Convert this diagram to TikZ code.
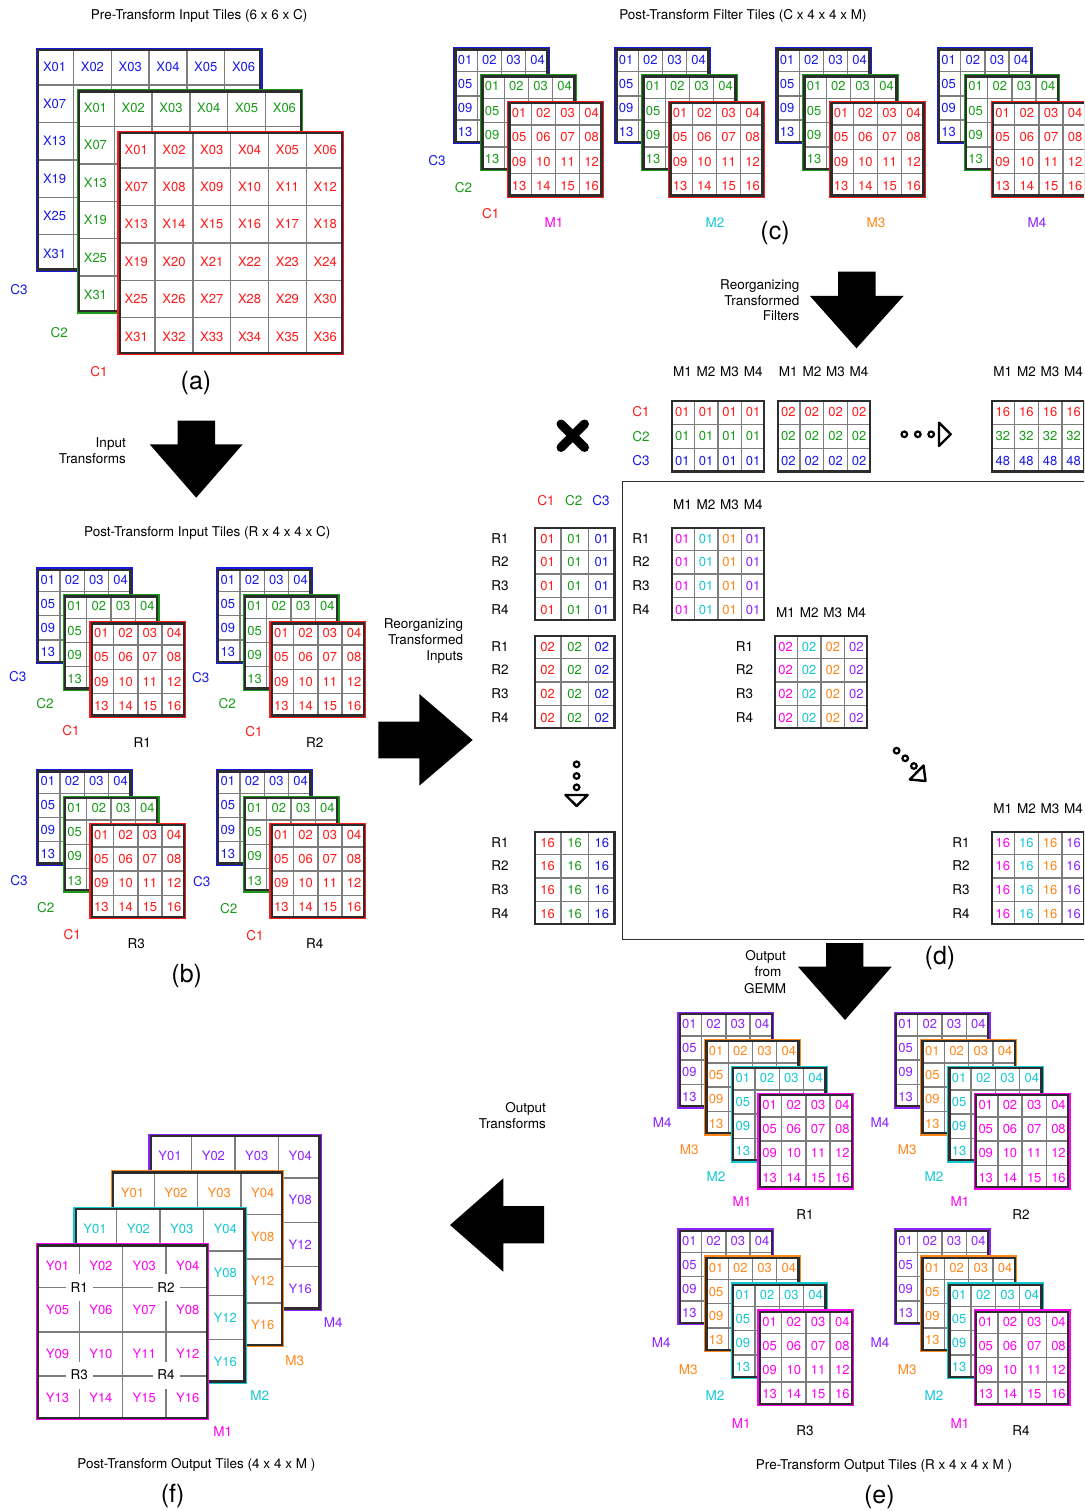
\documentclass[tikz,border=0pt]{standalone}
\usepackage{fontspec}
\setmainfont{TeX Gyre Heros}
\definecolor{cred}{RGB}{255,25,25}
\definecolor{cgreen}{RGB}{25,155,25}
\definecolor{cblue}{RGB}{25,25,230}
\definecolor{cmag}{RGB}{255,0,240}
\definecolor{ccyan}{RGB}{20,200,210}
\definecolor{corange}{RGB}{255,135,25}
\definecolor{cpurple}{RGB}{140,35,255}
\definecolor{gridgray}{RGB}{125,125,125}
\definecolor{framec}{RGB}{45,45,45}
\tikzset{
  gridl/.style={draw=gridgray, line width=1.4pt},
  framel/.style={draw=framec, line width=2.4pt},
  cl/.style={inner sep=0pt, font=\fontsize{13}{15}\selectfont, text height=9.3pt, text depth=0pt},
  lb/.style={inner sep=0pt, font=\fontsize{13.5}{16}\selectfont, text height=9.6pt, text depth=0pt},
  lbr/.style={lb, anchor=east},
  bigl/.style={inner sep=0pt, font=\fontsize{25}{28}\selectfont, text height=13pt, text depth=0pt},
  rlab/.style={lb, fill=white, minimum width=27pt, minimum height=27pt},
  blockarrow/.style={fill=black},
  dots/.style={draw=black, line width=2.2pt},
  dtri/.style={draw=black, line width=2.4pt, line join=round},
  bigframe/.style={draw=framec, line width=1.5pt},
}
\def\gcw{24}\def\gch{24}
% layer with coloured outline: x y cols rows colour
\newcommand\tilebox[5]{%
  \fill[white] ({#1},{#2}) rectangle ({#1+#3*\gcw},{#2+#4*\gch});
  \pgfmathtruncatemacro\tbnc{#3-1}%
  \pgfmathtruncatemacro\tbnr{#4-1}%
  \foreach \i in {1,...,\tbnc}{\draw[gridl] ({#1+\i*\gcw},{#2}) -- ({#1+\i*\gcw},{#2+#4*\gch});}
  \foreach \j in {1,...,\tbnr}{\draw[gridl] ({#1},{#2+\j*\gch}) -- ({#1+#3*\gcw},{#2+\j*\gch});}
  \draw[draw=#5, line width=1.2pt] ({#1+0.6},{#2+0.6}) rectangle ({#1+#3*\gcw-0.6},{#2+#4*\gch-0.6});
  \draw[framel] ({#1+2.4},{#2+2.4}) rectangle ({#1+#3*\gcw-2.4},{#2+#4*\gch-2.4});
}
% plain grid: x y cols rows
\newcommand\plaingrid[4]{%
  \fill[white] ({#1},{#2}) rectangle ({#1+#3*\gcw},{#2+#4*\gch});
  \pgfmathtruncatemacro\tbnc{#3-1}%
  \pgfmathtruncatemacro\tbnr{#4-1}%
  \foreach \i in {1,...,\tbnc}{\draw[gridl] ({#1+\i*\gcw},{#2}) -- ({#1+\i*\gcw},{#2+#4*\gch});}
  \foreach \j in {1,...,\tbnr}{\draw[gridl] ({#1},{#2+\j*\gch}) -- ({#1+#3*\gcw},{#2+\j*\gch});}
  \draw[framel] ({#1+1.2},{#2+1.2}) rectangle ({#1+#3*\gcw-1.2},{#2+#4*\gch-1.2});
}
% all labels: name x y colour prefix n
\newcommand\alllabels[6]{%
  \pgfmathtruncatemacro\alnm{#6-1}%
  \foreach \r in {0,...,\alnm}{\foreach \c in {0,...,\alnm}{%
    \pgfmathtruncatemacro\tn{\r*#6+\c+1}%
    \node[cl,text=#4] (#1-\r-\c) at ({#2+(\c+0.5)*\gcw},{#3+(\r+0.5)*\gch}) {#5\ifnum\tn<10 0\fi\tn};}}%
}
% first row and first column
\newcommand\leftlabels[6]{%
  \pgfmathtruncatemacro\alnm{#6-1}%
  \foreach \c in {0,...,\alnm}{\pgfmathtruncatemacro\tn{\c+1}%
    \node[cl,text=#4] (#1-0-\c) at ({#2+(\c+0.5)*\gcw},{#3+0.5*\gch}) {#5\ifnum\tn<10 0\fi\tn};}%
  \foreach \r in {1,...,\alnm}{\pgfmathtruncatemacro\tn{\r*#6+1}%
    \node[cl,text=#4] (#1-\r-0) at ({#2+0.5*\gcw},{#3+(\r+0.5)*\gch}) {#5\ifnum\tn<10 0\fi\tn};}%
}
% first row and last column
\newcommand\rightlabels[6]{%
  \pgfmathtruncatemacro\alnm{#6-1}%
  \foreach \c in {0,...,\alnm}{\pgfmathtruncatemacro\tn{\c+1}%
    \node[cl,text=#4] (#1-0-\c) at ({#2+(\c+0.5)*\gcw},{#3+0.5*\gch}) {#5\ifnum\tn<10 0\fi\tn};}%
  \foreach \r in {1,...,\alnm}{\pgfmathtruncatemacro\tn{\r*#6+#6}%
    \node[cl,text=#4] (#1-\r-e) at ({#2+(\alnm+0.5)*\gcw},{#3+(\r+0.5)*\gch}) {#5\ifnum\tn<10 0\fi\tn};}%
}
\newcommand\groupB[3]{%
  \tilebox{#2}{#3}{4}{4}{cblue}\leftlabels{#1b}{#2}{#3}{cblue}{}{4}%
  \tilebox{#2+26.8}{#3+26.8}{4}{4}{cgreen}\leftlabels{#1g}{#2+26.8}{#3+26.8}{cgreen}{}{4}%
  \tilebox{#2+53.6}{#3+53.6}{4}{4}{cred}\alllabels{#1r}{#2+53.6}{#3+53.6}{cred}{}{4}%
}
\newcommand\groupC[3]{%
  \tilebox{#2}{#3}{4}{4}{cblue}\leftlabels{#1b}{#2}{#3}{cblue}{}{4}%
  \tilebox{#2+27}{#3+26.7}{4}{4}{cgreen}\leftlabels{#1g}{#2+27}{#3+26.7}{cgreen}{}{4}%
  \tilebox{#2+54}{#3+53.4}{4}{4}{cred}\alllabels{#1r}{#2+54}{#3+53.4}{cred}{}{4}%
}
\newcommand\groupE[3]{%
  \tilebox{#2}{#3}{4}{4}{cpurple}\leftlabels{#1p}{#2}{#3}{cpurple}{}{4}%
  \tilebox{#2+26.7}{#3+27}{4}{4}{corange}\leftlabels{#1o}{#2+26.7}{#3+27}{corange}{}{4}%
  \tilebox{#2+53.4}{#3+54}{4}{4}{ccyan}\leftlabels{#1c}{#2+53.4}{#3+54}{ccyan}{}{4}%
  \tilebox{#2+80.1}{#3+81}{4}{4}{cmag}\alllabels{#1m}{#2+80.1}{#3+81}{cmag}{}{4}%
}
\begin{document}
\begin{tikzpicture}[x=1pt,y=-1pt]
\useasboundingbox (0,0) rectangle (1084,1511);
\fill[white] (0,0) rectangle (1084,1511);
\clip (0,0) rectangle (1084,1511);

% ================= (a) =================
\node[lb] (ta) at (199.2,14.7) {Pre-Transform Input Tiles (6 x 6 x C)};
\def\gcw{37.8}\def\gch{37.4}
\tilebox{35.7}{47.7}{6}{6}{cblue}\leftlabels{aB}{35.7}{47.7}{cblue}{X}{6}
\tilebox{76.5}{89.2}{6}{6}{cgreen}\leftlabels{aG}{76.5}{89.2}{cgreen}{X}{6}
\tilebox{117.3}{130.7}{6}{6}{cred}\alllabels{aR}{117.3}{130.7}{cred}{X}{6}
\node[lb,text=cblue] (aC3) at (19,289.3) {C3};
\node[lb,text=cgreen] (aC2) at (59.3,332.3) {C2};
\node[lb,text=cred] (aC1) at (99,371.7) {C1};
\node[bigl] (la) at (196,383.3) {(a)};

% arrow (a)->(b)
\fill[blockarrow] (177.7,420.7) -- (215,420.7) -- (215,444.3) -- (242.7,444.3) -- (196.2,497.7) -- (149.7,444.3) -- (177.7,444.3) -- cycle;
\node[lbr] (itx1) at (126,442.7) {Input};
\node[lbr] (itx2) at (126,458.3) {Transforms};

% ================= (b) =================
\node[lb] (tb) at (207.2,531.7) {Post-Transform Input Tiles (R x 4 x 4 x C)};
\def\gcw{24.25}\def\gch{24.2}
\groupB{bA}{35.7}{567.3}
\groupB{bB}{215.7}{567.3}
\groupB{bC}{35.7}{769}
\groupB{bD}{215.7}{769}
\node[lb,text=cblue] (bAC3) at (17.7,676.3) {C3};
\node[lb,text=cgreen] (bAC2) at (45,703.3) {C2};
\node[lb,text=cred] (bAC1) at (71,730.7) {C1};
\node[lb] (bAR) at (142.3,742.3) {R1};
\node[lb,text=cblue] (bBC3) at (200.7,677.7) {C3};
\node[lb,text=cgreen] (bBC2) at (227.3,703.3) {C2};
\node[lb,text=cred] (bBC1) at (254,731.3) {C1};
\node[lb] (bBR) at (314.7,742.3) {R2};
\node[lb,text=cblue] (bCC3) at (19,880.3) {C3};
\node[lb,text=cgreen] (bCC2) at (45.7,907.3) {C2};
\node[lb,text=cred] (bCC1) at (72.3,934.3) {C1};
\node[lb] (bCR) at (136.3,943.3) {R3};
\node[lb,text=cblue] (bDC3) at (201.7,881.3) {C3};
\node[lb,text=cgreen] (bDC2) at (228.7,908.3) {C2};
\node[lb,text=cred] (bDC1) at (255,935.3) {C1};
\node[lb] (bDR) at (314.7,943.3) {R4};
\node[bigl] (lb) at (186.7,976) {(b)};

% arrow (b)->(d)
\fill[blockarrow] (378.3,721.7) -- (419.3,721.7) -- (419.3,694) -- (472.7,740) -- (419.3,785.7) -- (419.3,758.3) -- (378.3,758.3) -- cycle;
\node[lbr] (rti1) at (463.3,624) {Reorganizing};
\node[lbr] (rti2) at (463.3,639.3) {Transformed};
\node[lbr] (rti3) at (463.3,655.3) {Inputs};

% ================= (c) =================
\node[lb] (tc) at (743,14.7) {Post-Transform Filter Tiles (C x 4 x 4 x M)};
\def\gcw{24.2}\def\gch{24.3}
\groupC{cA}{453}{47.3}
\groupC{cB}{614}{47.3}
\groupC{cC}{775}{47.3}
\groupC{cD}{936.5}{47.3}
\node[lb,text=cblue] (cC3) at (437,160.7) {C3};
\node[lb,text=cgreen] (cC2) at (463.6,187.3) {C2};
\node[lb,text=cred] (cC1) at (490.8,213.3) {C1};
\node[lb,text=cmag] (cM1) at (553.9,222.7) {M1};
\node[lb,text=ccyan] (cM2) at (715,222.7) {M2};
\node[lb,text=corange] (cM3) at (876,222.7) {M3};
\node[lb,text=cpurple] (cM4) at (1037,222.7) {M4};
\node[bigl] (lc) at (775,233) {(c)};

% arrow (c)->(d)
\fill[blockarrow] (838,271.7) -- (875.5,271.7) -- (875.5,296) -- (903.5,296) -- (856.5,348.3) -- (810,296) -- (838,296) -- cycle;
\node[lbr] (rtf1) at (799.6,285) {Reorganizing};
\node[lbr] (rtf2) at (799.6,300.7) {Transformed};
\node[lbr] (rtf3) at (799.6,316) {Filters};

% ================= (d) =================
% filter matrices
\def\gcw{23.6}\def\gch{24.2}
\plaingrid{670.6}{400}{4}{3}
\plaingrid{776.5}{400}{4}{3}
\plaingrid{991}{400}{4}{3}
\foreach \r/\cc in {0/cred,1/cgreen,2/cblue}{\foreach \c in {0,...,3}{
  \node[cl,text=\cc] (fA-\r-\c) at ({670.6+(\c+0.5)*\gcw},{400+(\r+0.5)*\gch}) {01};
  \node[cl,text=\cc] (fB-\r-\c) at ({776.5+(\c+0.5)*\gcw},{400+(\r+0.5)*\gch}) {02};}}
\foreach \r/\cc/\tv in {0/cred/16,1/cgreen/32,2/cblue/48}{\foreach \c in {0,...,3}{
  \node[cl,text=\cc] (fC-\r-\c) at ({991+(\c+0.5)*\gcw},{400+(\r+0.5)*\gch}) {\tv};}}
\foreach \c/\m in {0/M1,1/M2,2/M3,3/M4}{
  \node[lb] (fAh\c) at ({670.6+(\c+0.5)*23.6},372) {\m};
  \node[lb] (fBh\c) at ({776.5+(\c+0.5)*23.6},372) {\m};
  \node[lb] (fCh\c) at ({991+(\c+0.5)*23.6},372) {\m};}
\node[lb,text=cred] (fC1) at (641,412.1) {C1};
\node[lb,text=cgreen] (fC2) at (641,436.3) {C2};
\node[lb,text=cblue] (fC3) at (641,460.5) {C3};
% times sign
\draw[line width=9pt, line cap=round] (561,424) -- (584.5,447.5) (561,447.5) -- (584.5,424);
% dots to the right
\draw[dots] (904.3,434.3) circle[radius=2.8] (917.8,434.3) circle[radius=2.8] (931.2,434.3) circle[radius=2.8];
\draw[dtri] (939,422.7) -- (950.7,434.3) -- (939,446) -- cycle;

% big box
\draw[bigframe] (622.5,481.5) rectangle (1100,939.3);

% input matrices
\def\gcw{27.2}\def\gch{23.65}
\plaingrid{533.9}{526.7}{3}{4}
\plaingrid{533.9}{634.7}{3}{4}
\plaingrid{533.9}{830.7}{3}{4}
\foreach \c/\cc in {0/cred,1/cgreen,2/cblue}{\foreach \r in {0,...,3}{
  \node[cl,text=\cc] (iA-\r-\c) at ({533.9+(\c+0.5)*\gcw},{526.7+(\r+0.5)*\gch}) {01};
  \node[cl,text=\cc] (iB-\r-\c) at ({533.9+(\c+0.5)*\gcw},{634.7+(\r+0.5)*\gch}) {02};
  \node[cl,text=\cc] (iC-\r-\c) at ({533.9+(\c+0.5)*\gcw},{830.7+(\r+0.5)*\gch}) {16};}}
\node[lb,text=cred] (ih1) at (546,500.7) {C1};
\node[lb,text=cgreen] (ih2) at (573.8,500.7) {C2};
\node[lb,text=cblue] (ih3) at (601,500.7) {C3};
\foreach \r in {0,...,3}{\pgfmathtruncatemacro\rn{\r+1}
  \node[lb] (iAR\r) at (500,{526.7+(\r+0.5)*23.65}) {R\rn};
  \node[lb] (iBR\r) at (500,{634.7+(\r+0.5)*23.65}) {R\rn};
  \node[lb] (iCR\r) at (500,{830.7+(\r+0.5)*23.65}) {R\rn};}
% vertical dots
\draw[dots] (576.6,764.3) circle[radius=2.8] (576.6,776) circle[radius=2.8] (576.6,787.3) circle[radius=2.8];
\draw[dtri] (565.5,795) -- (587.7,795) -- (576.6,806) -- cycle;

% output matrices
\def\gcw{23.6}\def\gch{23.65}
\plaingrid{670.6}{526.7}{4}{4}
\plaingrid{773.8}{634.7}{4}{4}
\plaingrid{991}{830.7}{4}{4}
\foreach \c/\cc in {0/cmag,1/ccyan,2/corange,3/cpurple}{\foreach \r in {0,...,3}{
  \node[cl,text=\cc] (oA-\r-\c) at ({670.6+(\c+0.5)*\gcw},{526.7+(\r+0.5)*\gch}) {01};
  \node[cl,text=\cc] (oB-\r-\c) at ({773.8+(\c+0.5)*\gcw},{634.7+(\r+0.5)*\gch}) {02};
  \node[cl,text=\cc] (oC-\r-\c) at ({991+(\c+0.5)*\gcw},{830.7+(\r+0.5)*\gch}) {16};}}
\foreach \c/\m in {0/M1,1/M2,2/M3,3/M4}{
  \node[lb] (oAh\c) at ({670.6+(\c+0.5)*23.6},504.3) {\m};
  \node[lb] (oBh\c) at ({773.8+(\c+0.5)*23.6},612.3) {\m};
  \node[lb] (oCh\c) at ({991+(\c+0.5)*23.6},808.3) {\m};}
\foreach \r in {0,...,3}{\pgfmathtruncatemacro\rn{\r+1}
  \node[lb] (oAR\r) at (641,{526.7+(\r+0.5)*23.65}) {R\rn};
  \node[lb] (oBR\r) at (744.5,{634.7+(\r+0.5)*23.65}) {R\rn};
  \node[lb] (oCR\r) at (961,{830.7+(\r+0.5)*23.65}) {R\rn};}
% diagonal dots
\draw[dots] (896.6,750.7) circle[radius=2.8] (905.2,758.3) circle[radius=2.8] (913.9,766) circle[radius=2.8];
\draw[dtri] (923.5,765.5) -- (909.8,779.5) -- (925.5,781) -- cycle;
\node[bigl] (ld) at (940,958) {(d)};

% arrow (d)->(e)
\fill[blockarrow] (826,943) -- (863.3,943) -- (863.3,966.7) -- (891.7,966.7) -- (845,1020) -- (798,966.7) -- (826,966.7) -- cycle;
\node[lb] (og1) at (765.7,955.7) {Output};
\node[lb] (og2) at (768,971.7) {from};
\node[lb] (og3) at (765,988.7) {GEMM};

% ================= (e) =================
\def\gcw{24.25}\def\gch{24.2}
\groupE{eA}{677.3}{1011.7}
\groupE{eB}{893.5}{1011.7}
\groupE{eC}{677.3}{1228.3}
\groupE{eD}{893.5}{1228.3}
\node[lb,text=cpurple] (eAM4) at (662.3,1122.7) {M4};
\node[lb,text=corange] (eAM3) at (689.3,1149.3) {M3};
\node[lb,text=ccyan] (eAM2) at (716,1176.7) {M2};
\node[lb,text=cmag] (eAM1) at (742,1201.7) {M1};
\node[lb] (eAR) at (805,1215) {R1};
\node[lb,text=cpurple] (eBM4) at (880,1122.7) {M4};
\node[lb,text=corange] (eBM3) at (907.3,1149.3) {M3};
\node[lb,text=ccyan] (eBM2) at (934,1176.7) {M2};
\node[lb,text=cmag] (eBM1) at (960,1201.7) {M1};
\node[lb] (eBR) at (1021,1215) {R2};
\node[lb,text=cpurple] (eCM4) at (661.3,1342.3) {M4};
\node[lb,text=corange] (eCM3) at (688.3,1369.3) {M3};
\node[lb,text=ccyan] (eCM2) at (715,1396) {M2};
\node[lb,text=cmag] (eCM1) at (741.3,1423.3) {M1};
\node[lb] (eCR) at (805,1431) {R3};
\node[lb,text=cpurple] (eDM4) at (880,1342.3) {M4};
\node[lb,text=corange] (eDM3) at (907.3,1369.3) {M3};
\node[lb,text=ccyan] (eDM2) at (934,1396) {M2};
\node[lb,text=cmag] (eDM1) at (960,1423.3) {M1};
\node[lb] (eDR) at (1021,1431) {R4};
\node[lb] (te) at (884,1465) {Pre-Transform Output Tiles (R x 4 x 4 x M )};
\node[bigl] (le) at (879.3,1496.7) {(e)};

% arrow (e)->(f)
\fill[blockarrow] (544,1206) -- (503.3,1206) -- (503.3,1178.3) -- (450,1225) -- (503.3,1271.7) -- (503.3,1243.3) -- (544,1243.3) -- cycle;
\node[lbr] (otx1) at (546,1107.3) {Output};
\node[lbr] (otx2) at (546,1123.3) {Transforms};

% ================= (f) =================
\def\gcw{43.4}\def\gch{44.3}
\tilebox{148.3}{1133.7}{4}{4}{cpurple}\rightlabels{fP}{148.3}{1133.7}{cpurple}{Y}{4}
\tilebox{110.8}{1170.2}{4}{4}{corange}\rightlabels{fO}{110.8}{1170.2}{corange}{Y}{4}
\tilebox{73.3}{1206.7}{4}{4}{ccyan}\rightlabels{fY}{73.3}{1206.7}{ccyan}{Y}{4}
\tilebox{35.8}{1243.2}{4}{4}{cmag}\alllabels{fM}{35.8}{1243.2}{cmag}{Y}{4}
\node[rlab] (fR1) at (79.2,1287.5) {R1};
\node[rlab] (fR2) at (166,1287.5) {R2};
\node[rlab] (fR3) at (79.2,1375) {R3};
\node[rlab] (fR4) at (166,1375) {R4};
\node[lb,text=cpurple] (fM4) at (333.3,1322.3) {M4};
\node[lb,text=corange] (fM3) at (294.7,1360.3) {M3};
\node[lb,text=ccyan] (fM2) at (259.7,1396) {M2};
\node[lb,text=cmag] (fM1) at (222.7,1431.3) {M1};
\node[lb] (tf) at (196.3,1463.3) {Post-Transform Output Tiles (4 x 4 x M )};
\node[bigl] (lf) at (172.7,1496) {(f)};
\end{tikzpicture}
\end{document}
